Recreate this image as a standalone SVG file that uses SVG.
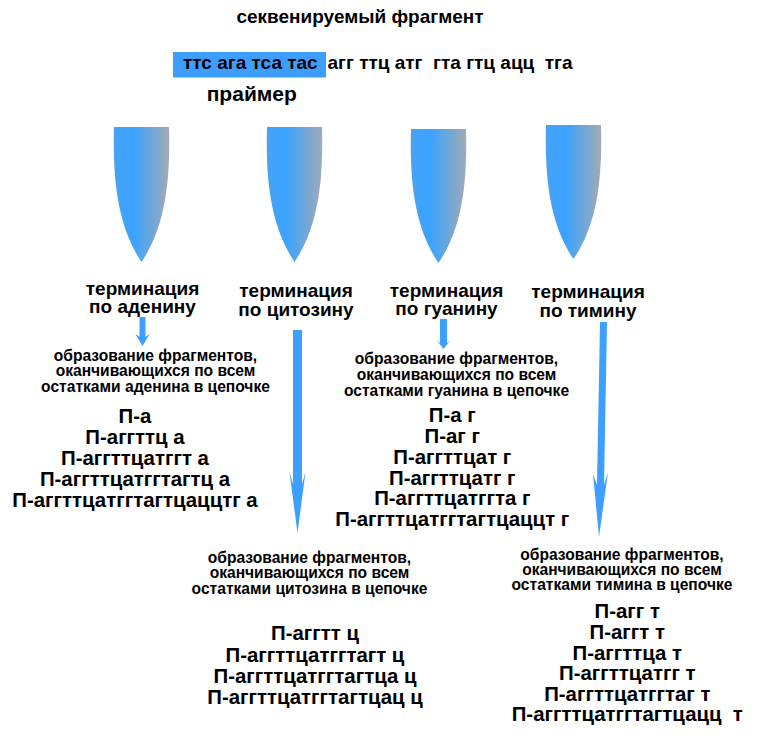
<svg xmlns="http://www.w3.org/2000/svg" width="760" height="748" viewBox="0 0 760 748">
<defs>
<linearGradient id="coneGrad" x1="0" y1="0" x2="1" y2="0">
<stop offset="0" stop-color="#48a2f6"/>
<stop offset="0.35" stop-color="#3aa3ff"/>
<stop offset="1" stop-color="#a3aab4"/>
</linearGradient>
<path id="cone" d="M0,0 H55 C56.5,55 51,100 27.5,135 C4,100 -1.5,55 0,0 Z"/>
</defs>
<style>
text{font-family:"Liberation Sans",Arial,sans-serif;font-weight:bold;fill:#000;text-anchor:middle}
.title{font-size:19px}
.seq{font-size:19px;text-anchor:start}
.primer{font-size:21px;text-anchor:start}
.term{font-size:19px}
.desc{font-size:15.6px}
.list{font-size:20.4px}
.arrow{fill:#3d9fff}
.cone{fill:url(#coneGrad)}
</style>
<rect width="760" height="748" fill="#fff"/>

<g id="header">
<text class="title" x="360" y="23">секвенируемый фрагмент</text>
<rect x="173" y="52" width="153" height="25.5" fill="#3d9eff"/>
<text class="seq" x="183" y="69">ттс ага тса тас</text>
<text class="seq" x="327.5" y="69" xml:space="preserve">агг ттц атг  гта гтц ацц  тга</text>
<text class="primer" x="206.7" y="101">праймер</text>
</g>

<g id="tube-a"><use href="#cone" class="cone" transform="translate(114,127)"/></g>
<g id="tube-c"><use href="#cone" class="cone" transform="translate(267,127)"/></g>
<g id="tube-g"><use href="#cone" class="cone" transform="translate(411,129) scale(1,0.993)"/></g>
<g id="tube-t"><use href="#cone" class="cone" transform="translate(546,125) scale(1,0.993)"/></g>

<g id="term-a"><text class="term" x="142.5" y="295">терминация</text><text class="term" x="142.5" y="313">по аденину</text></g>
<g id="term-c"><text class="term" x="296" y="297">терминация</text><text class="term" x="296" y="315.5">по цитозину</text></g>
<g id="term-g"><text class="term" x="446.5" y="296.5">терминация</text><text class="term" x="446.5" y="315">по гуанину</text></g>
<g id="term-t"><text class="term" x="588" y="298">терминация</text><text class="term" x="588" y="316.5">по тимину</text></g>

<g id="connectors">
<polygon class="arrow" points="139.5,317 145.5,317 145.5,337 150,333.5 142.5,346 135,333.5 139.5,337"/>
<polygon class="arrow" points="440,319 447,319 447,343 450.5,340 443.5,349 436.5,340 440,343"/>
<polygon class="arrow" points="293,330 302,330 302,484 305.5,472 297.5,533 289.5,472 293,484"/>
<polygon class="arrow" points="600,322 607,322 604,485 608,472 599,537 593,474 597,485"/>
</g>

<g id="desc-a">
<text class="desc" x="155.5" y="360.5">образование фрагментов,</text>
<text class="desc" x="155.5" y="376">оканчивающихся по всем</text>
<text class="desc" x="155.5" y="391.5">остатками аденина в цепочке</text>
</g>
<g id="desc-g">
<text class="desc" x="456.5" y="364">образование фрагментов,</text>
<text class="desc" x="456.5" y="380">оканчивающихся по всем</text>
<text class="desc" x="456.5" y="396">остатками гуанина в цепочке</text>
</g>
<g id="desc-c">
<text class="desc" x="309.5" y="563">образование фрагментов,</text>
<text class="desc" x="309.5" y="578">оканчивающихся по всем</text>
<text class="desc" x="309.5" y="593.5">остатками цитозина в цепочке</text>
</g>
<g id="desc-t">
<text class="desc" x="622" y="560">образование фрагментов,</text>
<text class="desc" x="622" y="575">оканчивающихся по всем</text>
<text class="desc" x="622" y="590">остатками тимина в цепочке</text>
</g>

<g id="list-a">
<text class="list" x="135" y="422.7">П-а</text>
<text class="list" x="135" y="444.3">П-аггттц а</text>
<text class="list" x="135" y="465">П-аггттцатггт а</text>
<text class="list" x="135" y="486">П-аггттцатггтагтц а</text>
<text class="list" x="135" y="506.7">П-аггттцатггтагтцаццтг а</text>
</g>
<g id="list-g">
<text class="list" x="452.3" y="421.7">П-а г</text>
<text class="list" x="452.3" y="442.7">П-аг г</text>
<text class="list" x="452.3" y="464">П-аггттцат г</text>
<text class="list" x="452.3" y="485">П-аггттцатг г</text>
<text class="list" x="452.3" y="505">П-аггттцатггта г</text>
<text class="list" x="452.3" y="525.5">П-аггттцатггтагтцаццт г</text>
</g>
<g id="list-c">
<text class="list" x="315" y="640">П-аггтт ц</text>
<text class="list" x="315" y="662">П-аггттцатггтагт ц</text>
<text class="list" x="315" y="683">П-аггттцатггтагтца ц</text>
<text class="list" x="315" y="704">П-аггттцатггтагтцац ц</text>
</g>
<g id="list-t">
<text class="list" x="627.3" y="618.3">П-агг т</text>
<text class="list" x="627.3" y="639.3">П-аггт т</text>
<text class="list" x="627.3" y="660">П-аггттца т</text>
<text class="list" x="627.3" y="680">П-аггттцатгг т</text>
<text class="list" x="627.3" y="700.7">П-аггттцатггтаг т</text>
<text class="list" x="627.3" y="720.7" xml:space="preserve">П-аггттцатггтагтцацц  т</text>
</g>
</svg>
